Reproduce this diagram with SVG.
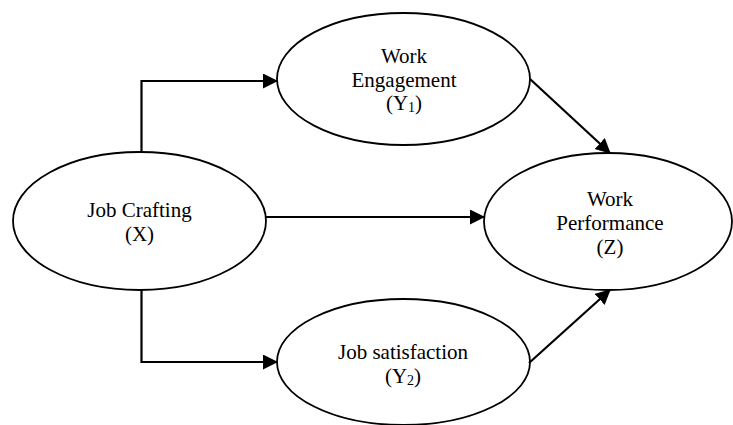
<svg xmlns="http://www.w3.org/2000/svg" width="733" height="425" viewBox="0 0 733 425">
<style>
.node ellipse{fill:#fff;stroke:#000;stroke-width:1.8}
.node text{font-family:'Liberation Serif','Times New Roman',Times,serif;font-size:21px;fill:#000;text-anchor:middle}
.sub{font-size:14px}
.conn path{fill:none;stroke:#000;stroke-width:2.2}
</style>
<defs>
<marker id="ah" markerUnits="userSpaceOnUse" markerWidth="16" markerHeight="16" refX="14" refY="7.5" orient="auto">
<path d="M0,0 L15,7.5 L0,15 z" fill="#000"/>
</marker>
</defs>
<g id="job-crafting" class="node" font-family="Liberation Serif, Times New Roman, serif">
<ellipse cx="139.5" cy="221" rx="126.5" ry="69"/>
<text x="139.5" y="217">Job Crafting</text>
<text x="139.5" y="241">(X)</text>
</g>
<g id="work-engagement" class="node" font-family="Liberation Serif, Times New Roman, serif">
<ellipse cx="403.5" cy="79" rx="126.5" ry="66"/>
<text x="404" y="63">Work</text>
<text x="404" y="87">Engagement</text>
<text x="404" y="110">(Y<tspan class="sub" dy="2">1</tspan><tspan dy="-2">)</tspan></text>
</g>
<g id="work-performance" class="node" font-family="Liberation Serif, Times New Roman, serif">
<ellipse cx="608" cy="221.5" rx="124" ry="68.5"/>
<text x="610" y="206">Work</text>
<text x="610" y="230">Performance</text>
<text x="610" y="254">(Z)</text>
</g>
<g id="job-satisfaction" class="node" font-family="Liberation Serif, Times New Roman, serif">
<ellipse cx="403.5" cy="362" rx="126.5" ry="63"/>
<text x="403" y="359">Job satisfaction</text>
<text x="403" y="383">(Y<tspan class="sub" dy="2">2</tspan><tspan dy="-2">)</tspan></text>
</g>
<g id="connectors" class="conn">
<path d="M141.5,152 L141.5,81 L277,81" marker-end="url(#ah)"/>
<path d="M266,217 L484,217" marker-end="url(#ah)"/>
<path d="M141.5,290 L141.5,362 L277,362" marker-end="url(#ah)"/>
<path d="M530,79 L610,153" marker-end="url(#ah)"/>
<path d="M529,363 L610,290" marker-end="url(#ah)"/>
</g>
</svg>
